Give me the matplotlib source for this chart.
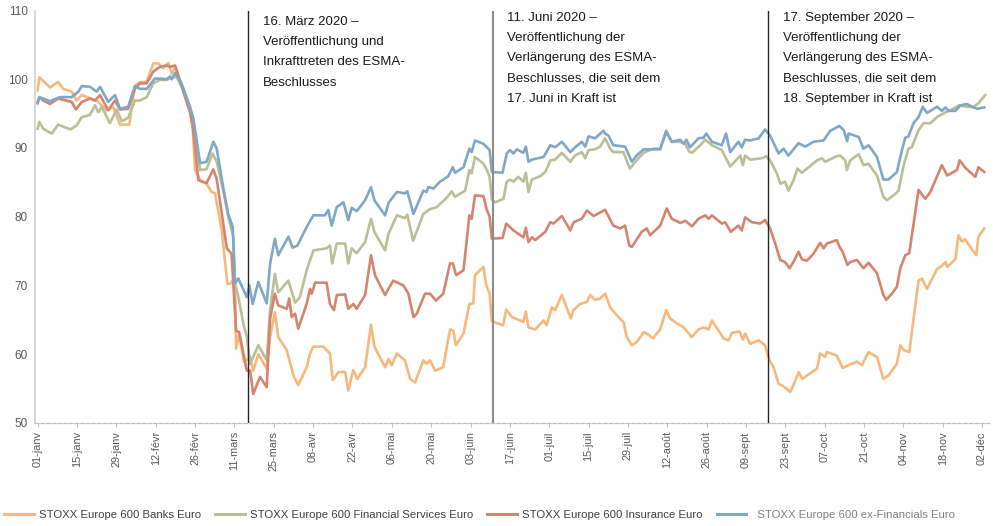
import numpy as np
import pandas as pd
import matplotlib
matplotlib.use('agg')
import matplotlib.pyplot as plt

plt.rcParams['font.family'] = ['Liberation Sans', 'DejaVu Sans']

# days counted from 01-janv-2020
banks_day = [0, 0.6, 4.4, 7.3, 9.1, 12.1, 13.9, 15.7, 21, 24.6, 26.9, 29.3, 32.6, 34.6, 36.4, 38.8, 41.1, 42.9, 44.7, 46.5,
             47.7, 48.9, 51.2, 54.2, 55.2, 56, 57.8, 60.1, 61.9, 63.1, 65.5, 67.5, 68.7, 70.2, 70.6, 71.7, 73.4, 75.6, 76.7, 78.5,
             81.5, 82.7, 84.4, 85.6, 88.6, 91, 92.7, 95.7, 96.9, 98.1, 101.6, 104, 105, 107, 109.4, 110.5, 112.3, 113.7, 116.5, 118.6,
             119.8, 123.6, 124.8, 126, 127.8, 130.7, 132.5, 134.3, 137.2, 138.4, 139.6, 141.4, 144.3, 146.7, 147.9, 148.8, 151.5, 153.6, 155, 155.6,
             158.6, 159.6, 160.8, 161.6, 165.6, 166.7, 168.7, 172.8, 173.7, 174.6, 177, 180, 181.1, 182.9, 184.1, 186.5, 189.7, 190.6, 193, 195.4,
             196.6, 198.3, 200.1, 201.9, 203.7, 206.6, 208.4, 209.6, 211.4, 213.2, 215.6, 216.7, 218.9, 221.5, 223.6, 225, 227.4, 229.8, 232.7, 235.1,
             236.9, 238.7, 239.9, 244, 245.8, 247, 249.7, 250.9, 251.7, 253.5, 256.5, 258.8, 260.4, 261.8, 263.6, 265.4, 267.8, 269.6, 270.8, 272,
             273.7, 277.3, 278.4, 280.2, 280.8, 284.3, 286.4, 288.5, 291.5, 293.3, 294.4, 295.6, 298.6, 300.9, 302.7, 305.7, 306.9, 308.1, 310.1, 313.4,
             314.6, 316.4, 320, 321.2, 323, 323.6, 326.5, 327.6, 328.8, 330, 331.8, 333.9, 334.7, 336.8]
banks_val = [98.4, 100.3, 98.8, 99.6, 98.6, 98.2, 96.9, 97.7, 96.9, 95.5, 95.9, 93.4, 93.4, 99.0, 99.6, 99.6, 102.3, 102.3, 101.6, 102.4,
             100.8, 101.8, 99.1, 95.5, 92.8, 86.8, 85.3, 84.8, 83.6, 83.4, 78.0, 70.2, 70.3, 71.2, 60.8, 62.9, 58.9, 59.6, 57.6, 60.0,
             57.9, 62.5, 66.1, 62.5, 60.6, 56.9, 55.5, 58.1, 60.1, 61.1, 61.1, 60.1, 56.2, 57.4, 57.4, 54.7, 57.7, 56.4, 58.1, 64.3,
             61.1, 58.1, 59.3, 58.4, 60.1, 59.1, 56.4, 55.9, 59.1, 58.6, 59.1, 57.6, 58.1, 63.6, 63.4, 61.3, 63.0, 67.3, 67.4, 71.5,
             72.7, 70.0, 68.8, 64.8, 64.2, 66.5, 65.4, 64.7, 66.2, 63.9, 63.6, 64.9, 64.2, 66.8, 66.4, 68.6, 65.2, 66.4, 67.3, 67.6,
             68.6, 67.9, 68.1, 68.8, 66.8, 65.4, 64.7, 62.5, 61.3, 61.8, 63.2, 63.0, 62.3, 63.6, 66.4, 65.2, 64.5, 63.9, 62.5, 63.6,
             63.9, 63.6, 64.9, 62.3, 62.0, 63.1, 63.3, 62.1, 63.0, 61.5, 62.0, 61.3, 59.1, 58.1, 55.7, 55.3, 54.5, 56.2, 57.4, 56.4,
             56.9, 57.9, 60.1, 59.6, 60.3, 59.8, 58.0, 58.4, 58.9, 58.4, 59.3, 60.3, 59.6, 56.4, 56.9, 58.6, 61.3, 60.6, 60.3, 70.7,
             71.0, 69.5, 72.4, 72.7, 73.4, 72.7, 73.8, 77.3, 76.4, 76.7, 75.6, 74.4, 77.1, 78.3]

finserv_day = [0, 0.6, 2, 5, 7.3, 9.7, 11.7, 13.9, 15.7, 18.6, 20.4, 21.6, 22.8, 25.7, 28.1, 29.9, 32.2, 34.6, 36.4, 38.8,
               41.1, 43.5, 45.9, 47.6, 49.5, 51.2, 54.2, 55.4, 57.8, 60.1, 62.2, 63.7, 66, 67.8, 69.6, 70.2, 71.4, 73.2, 74.4, 75.6,
               76.7, 78.5, 81.5, 82.7, 84.4, 85.6, 89.2, 91.6, 93.3, 95.7, 98.1, 102.8, 104, 104.8, 106.4, 109.4, 110.5, 111.7, 113.5, 116.5,
               118.6, 119.8, 123.6, 124.8, 127.8, 130.7, 131.5, 133.6, 137.2, 139.6, 142, 145.6, 147.3, 148.5, 152.1, 153.6, 154.4, 155.6, 158.6, 159.8,
               160.8, 161.6, 162.8, 165.7, 166.9, 168, 169.3, 171, 172.8, 173.7, 174.6, 175.8, 178.8, 180.6, 182.4, 184.1, 186.5, 189.5, 191.2, 193.6,
               194.8, 196, 198.3, 200.1, 201.9, 203.7, 204.8, 208.4, 210.7, 213.1, 215.6, 219, 221.5, 223.6, 225.6, 228.6, 230.4, 231.8, 232.8, 235.7,
               237.5, 239.9, 243.4, 246.4, 250, 250.9, 251.7, 253.5, 257.6, 259.2, 260.6, 263, 264.2, 265.9, 267.1, 268.9, 270.3, 271.9, 274.3, 277.3,
               279, 280.2, 284.3, 285.5, 287.3, 287.9, 289.1, 292.1, 293.8, 295.6, 298.6, 300.9, 302.1, 305.1, 306.3, 308.1, 309.8, 311, 313.4, 315.2,
               317.6, 320, 323, 325.3, 327.7, 330.6, 333, 334.7, 337.1]
finserv_val = [92.8, 93.8, 92.8, 92.1, 93.4, 93.0, 92.7, 93.3, 94.5, 94.8, 96.2, 95.2, 96.0, 93.6, 95.6, 93.9, 94.4, 96.9, 96.9, 97.4,
               99.4, 99.9, 99.9, 100.3, 100.3, 98.9, 95.5, 94.1, 86.8, 86.9, 89.2, 88.0, 83.9, 80.0, 77.1, 70.3, 68.3, 64.4, 62.5, 58.6,
               59.6, 61.3, 59.1, 66.4, 71.7, 69.0, 70.7, 67.5, 68.3, 72.2, 75.1, 75.4, 75.8, 73.2, 76.1, 76.1, 73.2, 75.4, 74.7, 76.3,
               79.7, 77.8, 75.1, 77.5, 80.2, 79.8, 80.3, 76.5, 80.4, 81.1, 81.4, 82.8, 83.7, 82.9, 83.8, 86.8, 86.3, 88.7, 87.7, 86.8,
               85.8, 82.5, 82.1, 82.6, 85.1, 85.4, 85.1, 85.8, 85.1, 86.4, 83.6, 85.4, 85.9, 86.5, 88.2, 88.3, 89.3, 88.0, 88.9, 89.4,
               88.5, 89.7, 89.8, 90.2, 91.4, 89.9, 89.4, 89.4, 87.0, 88.2, 89.3, 89.9, 89.9, 92.3, 90.9, 90.9, 90.6, 89.5, 89.3, 90.4,
               91.2, 90.4, 89.7, 87.3, 88.9, 87.5, 88.9, 88.3, 88.5, 88.8, 88.2, 86.3, 84.8, 85.1, 83.8, 85.3, 87.0, 86.4, 87.2, 88.2,
               88.5, 88.0, 88.8, 88.9, 88.2, 86.8, 88.2, 89.1, 87.5, 87.7, 86.0, 82.9, 82.4, 83.3, 83.8, 87.5, 89.9, 90.1, 92.6, 93.6,
               93.6, 94.5, 95.2, 95.6, 96.2, 96.0, 96.0, 96.5, 97.7]

insur_day = [0, 0.6, 2, 4.4, 7.3, 12.1, 13.6, 15.7, 18.6, 20.4, 22.2, 25.1, 27.5, 29.3, 32.2, 34.6, 36.4, 38.8, 41.1, 43.5,
             45.9, 47.1, 48.9, 51.2, 54.2, 55.2, 57.2, 60.1, 62.5, 63.7, 67.3, 69, 70.6, 71.7, 74.4, 75.6, 76.7, 79.1, 81.5, 82.7,
             84.4, 85.6, 88.6, 89.5, 90.4, 91.6, 92.7, 95.7, 96.9, 97.5, 98.7, 102.8, 104, 105.4, 106.4, 109.4, 110.5, 112.3, 113.5, 116.5,
             118.6, 120, 123.6, 124.8, 126.5, 130.1, 131.9, 133.7, 134.9, 137.8, 139.6, 141.7, 144.3, 146.7, 147.7, 148.9, 151.5, 153.6, 154.4, 155.6,
             158.6, 159.8, 160.8, 161.6, 165.4, 166.7, 169.3, 172.8, 173.7, 174.6, 175.8, 177, 180.6, 182.4, 183.5, 186.5, 189.5, 190.7, 193.6, 195.4,
             197.8, 201.9, 204.8, 207.2, 209, 210.5, 211.4, 214.9, 216.7, 217.9, 221.5, 223.8, 225.6, 228.6, 230.4, 232.8, 235.1, 237.5, 238.7, 239.9,
             243.4, 244.6, 246.6, 249.3, 250.5, 251.7, 254.1, 257, 258.8, 260.6, 262.4, 264.2, 265.9, 267.5, 268.9, 270.7, 271.9, 273.7, 276, 278.4,
             279.6, 280.8, 284.3, 285.3, 286.4, 288.1, 289.1, 291.5, 293.8, 295.6, 298.6, 300.9, 301.9, 303.9, 305.7, 306.9, 308.7, 310.1, 313.4, 315.8,
             317.6, 321.7, 323.6, 327.1, 328, 330.1, 333.6, 334.7, 336.8]
insur_val = [96.7, 97.4, 96.9, 96.4, 97.2, 96.7, 95.6, 96.7, 97.2, 96.9, 97.7, 95.5, 96.9, 95.6, 95.7, 98.6, 99.4, 99.4, 101.1, 101.8,
             102.0, 101.8, 102.0, 99.1, 95.2, 93.1, 85.3, 84.9, 86.9, 85.5, 75.4, 74.6, 63.4, 63.2, 57.6, 57.6, 54.2, 56.7, 55.2, 65.2,
             68.8, 67.1, 66.6, 68.1, 65.4, 65.9, 63.7, 67.3, 69.5, 68.8, 70.4, 70.4, 67.3, 66.4, 68.6, 68.7, 66.6, 67.3, 66.6, 68.6,
             74.4, 71.5, 68.6, 69.5, 70.7, 70.0, 68.8, 65.4, 65.9, 68.8, 68.8, 67.8, 68.8, 73.2, 73.2, 71.5, 72.2, 80.2, 79.7, 83.1,
             83.0, 81.0, 80.0, 76.8, 76.9, 79.0, 78.0, 77.0, 78.4, 76.3, 77.0, 76.6, 77.8, 79.2, 79.0, 80.1, 78.0, 79.2, 79.7, 80.9,
             80.1, 81.0, 78.7, 78.3, 78.7, 75.8, 75.6, 77.8, 78.3, 77.3, 78.7, 81.2, 79.7, 79.1, 79.4, 78.6, 79.7, 80.2, 79.7, 80.2,
             79.0, 79.2, 77.8, 78.7, 78.0, 79.9, 79.2, 79.0, 79.5, 78.3, 76.1, 73.7, 73.4, 72.5, 73.4, 74.9, 73.8, 73.6, 74.6, 76.2,
             75.4, 76.1, 76.6, 75.6, 74.9, 73.0, 73.4, 73.7, 72.5, 73.3, 71.8, 68.6, 67.9, 68.8, 69.8, 72.5, 74.4, 74.7, 83.9, 82.6,
             83.6, 87.5, 86.0, 86.8, 88.2, 87.1, 85.8, 87.2, 86.5]

exfin_day = [0, 0.6, 4.4, 7.9, 12.1, 14.5, 15.7, 18.6, 21, 22.2, 25.1, 27.5, 29.3, 32.2, 34.6, 36.4, 38.8, 41.7, 43.5, 45.9,
             47.1, 47.7, 48.9, 51.2, 54.2, 55.4, 57.8, 60.1, 62.5, 63.7, 66, 67.8, 69.4, 70.2, 71.4, 74.4, 75.3, 76.5, 78.5, 81.5,
             82.7, 84.4, 85.6, 89.2, 90.7, 92.4, 95.7, 98.1, 102.2, 103.4, 104.6, 106.4, 108.8, 110.5, 111.7, 113.5, 116.5, 118.6, 119.8, 123.6,
             124.8, 127.8, 130.7, 131.5, 133.7, 137.2, 138.4, 139, 140.8, 143.2, 146.1, 147.7, 148.5, 151.5, 153.6, 154.4, 155.6, 158.6, 159.8, 160.8,
             161.6, 165.4, 166.9, 168, 169.3, 170.5, 172.8, 173.7, 174.6, 175.8, 180, 182.4, 184.1, 186.5, 189.5, 191.2, 193.6, 194.8, 196, 198.3,
             201.3, 201.9, 203.1, 204.8, 209, 211.4, 213.1, 215.6, 221.5, 223.6, 225.6, 228.6, 229.8, 230.8, 232.1, 235.1, 236.9, 237.9, 239.9, 243.4,
             244.9, 246.4, 249.3, 250.5, 251.7, 253.5, 256.5, 258.8, 260.6, 263.6, 265.4, 267.1, 270.7, 273.1, 276, 279.6, 282, 285.2, 286.8, 288,
             288.5, 292.1, 293.8, 295.6, 298.6, 300.9, 302.7, 305.7, 307.5, 308.7, 309.8, 311.6, 313.4, 314.9, 316.4, 320, 321.7, 323, 324.1, 326.5,
             328.3, 330.6, 332.4, 334.2, 336.8]
exfin_val = [96.5, 97.4, 96.8, 97.4, 97.4, 98.2, 99.0, 98.9, 98.2, 98.9, 96.7, 97.7, 95.7, 96.0, 99.0, 98.6, 98.6, 100.1, 100.1, 100.0,
             100.4, 100.0, 100.9, 99.4, 96.0, 94.3, 87.8, 88.0, 90.9, 89.9, 84.3, 80.4, 78.5, 70.3, 71.0, 68.3, 70.0, 67.3, 70.5, 67.4,
             73.2, 76.8, 74.4, 77.1, 75.5, 75.8, 78.5, 80.2, 80.2, 81.0, 78.7, 81.4, 82.1, 79.5, 81.3, 80.8, 82.4, 84.3, 82.4, 80.2,
             82.0, 83.6, 83.4, 83.7, 80.4, 83.8, 83.6, 84.3, 84.1, 85.1, 85.9, 87.2, 86.4, 87.2, 89.9, 89.4, 91.1, 90.6, 90.1, 89.7,
             86.5, 86.4, 89.2, 89.7, 89.2, 89.8, 89.3, 90.2, 88.0, 88.3, 88.7, 90.4, 90.1, 90.9, 89.4, 90.1, 90.9, 90.2, 91.7, 91.4,
             92.5, 92.1, 91.8, 90.4, 90.2, 88.0, 88.9, 89.8, 89.8, 92.5, 90.9, 91.2, 90.6, 91.2, 90.1, 91.4, 91.5, 92.1, 90.9, 90.4,
             92.1, 89.4, 90.9, 90.1, 91.2, 91.1, 91.4, 92.7, 91.8, 89.2, 89.9, 88.9, 90.7, 90.2, 90.9, 91.1, 92.5, 93.2, 92.6, 91.0,
             92.1, 91.6, 89.9, 90.4, 88.7, 85.4, 85.4, 86.5, 89.7, 91.5, 91.7, 93.6, 94.5, 96.0, 95.1, 96.0, 95.4, 95.9, 95.4, 95.4,
             96.2, 96.4, 96.0, 95.7, 95.9]

series_names = ['STOXX Europe 600 Banks Euro', 'STOXX Europe 600 Financial Services Euro',
                'STOXX Europe 600 Insurance Euro', '  STOXX Europe 600 ex-Financials Euro']
series_colors = ['#F5B97D', '#B9BF97', '#D4856F', '#7FA8C6']

event_dates = ['2020-03-16', '2020-06-11', '2020-09-17']
event_texts = ['16. März 2020 –\nVeröffentlichung und\nInkrafttreten des ESMA-\nBeschlusses',
               '11. Juni 2020 –\nVeröffentlichung der\nVerlängerung des ESMA-\nBeschlusses, die seit dem\n17. Juni in Kraft ist',
               '17. September 2020 –\nVeröffentlichung der\nVerlängerung des ESMA-\nBeschlusses, die seit dem\n18. September in Kraft ist']
event_colors = ['#262626', '#8C8C8C', '#262626']
event_widths = [1.0, 1.5, 1.0]
event_text_top = [0.986, 0.996, 0.996]

tick_labels = ['01-janv', '15-janv', '29-janv', '12-févr', '26-févr', '11-mars', '25-mars', '08-avr', '22-avr',
               '06-mai', '20-mai', '03-juin', '17-juin', '01-juil', '15-juil', '29-juil', '12-août', '26-août',
               '09-sept', '23-sept', '07-oct', '21-oct', '04-nov', '18-nov', '02-déc']

start = pd.Timestamp('2020-01-01')

def to_dates(days):
    return start + pd.to_timedelta(np.array(days), unit='D')

fig = plt.figure(figsize=(9.93, 5.26), dpi=100)
ax = fig.add_axes([0.0352, 0.196, 0.962, 0.784])

all_days = [banks_day, finserv_day, insur_day, exfin_day]
all_vals = [banks_val, finserv_val, insur_val, exfin_val]
handles = []
for d, v, c in zip(all_days, all_vals, series_colors):
    h, = ax.plot(to_dates(d), v, color=c, lw=1.9, solid_joinstyle='round')
    handles.append(h)

for dt, txt, ec, ew, ty in zip(event_dates, event_texts, event_colors, event_widths, event_text_top):
    x = pd.Timestamp(dt)
    ax.axvline(x, color=ec, lw=ew, zorder=5)
    ax.text(x + pd.Timedelta(days=5), ty, txt, transform=ax.get_xaxis_transform(),
            ha='left', va='top', fontsize=9.5, linespacing=1.9, color='#1A1A1A')

ax.set_xlim(start - pd.Timedelta(days=0.96), start + pd.Timedelta(days=338.9))
ax.set_ylim(50, 110)
ax.set_yticks(range(50, 111, 10))
ticks = pd.date_range('2020-01-01', periods=len(tick_labels), freq='14D')
ax.set_xticks(ticks)
ax.set_xticklabels(tick_labels, rotation=90)
ax.tick_params(axis='y', length=0, pad=5, labelsize=8.5, labelcolor='#595959')
ax.tick_params(axis='x', length=3, width=0.8, color='#BFBFBF', pad=3, labelsize=7.8, labelcolor='#595959')

for s in ['top', 'right']:
    ax.spines[s].set_visible(False)
ax.spines['left'].set_color('#D9D9D9')
ax.spines['left'].set_linewidth(1.5)
ax.spines['bottom'].set_color('#BFBFBF')
ax.spines['bottom'].set_linestyle((0, (3, 1.5)))
ax.spines['bottom'].set_linewidth(0.9)

leg = fig.legend(handles, series_names, loc='center left', bbox_to_anchor=(0.004, 0.021), ncol=4,
                 frameon=False, fontsize=8.2, handlelength=2.6, handletextpad=0.45, columnspacing=1.25,
                 borderpad=0, borderaxespad=0)
for t in leg.get_texts():
    t.set_color('#404040')
leg.get_texts()[3].set_color('#808080')
for lh in leg.get_lines():
    lh.set_linewidth(2.2)

fig.savefig('out.png', dpi=100)
